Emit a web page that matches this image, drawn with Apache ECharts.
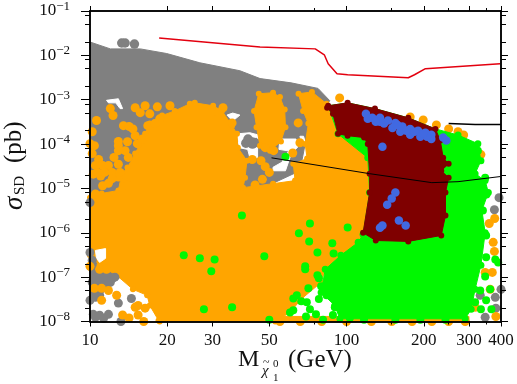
<!DOCTYPE html>
<html>
<head>
<meta charset="utf-8">
<style>html,body{margin:0;padding:0;background:#fff}#chart{width:517px;height:384px}</style>
<script src="https://cdn.jsdelivr.net/npm/echarts@6/dist/echarts.min.js"></script>
</head>
<body>
<div id="chart"></div>
<script>
// axis values
const xMajor = [10, 20, 30, 50, 100, 200, 300, 400]
const xMinor = [75, 150, 250, 350]
const yMajor = [1e-1, 1e-2, 1e-3, 1e-4, 1e-5, 1e-6, 1e-7, 1e-8]
const yMinor = [8e-2, 5e-2, 2e-2, 8e-3, 5e-3, 2e-3, 8e-4, 5e-4, 2e-4, 8e-5, 5e-5, 2e-5,
  8e-6, 5e-6, 2e-6, 8e-7, 5e-7, 2e-7, 8e-8, 5e-8, 2e-8]

// filled regions, outlines as [mass GeV, sigma pb]
const grayEdge = [[10, 2e-2], [12, 1.4e-2], [15.7, 1.4e-2], [19.9, 1.1e-2], [26.8, 6.8e-3], [38.4, 4.5e-3],
  [46, 3e-3], [60.8, 2.4e-3], [77.4, 1.8e-3], [86, 9.5e-4], [70.6, 2e-4], [65.8, 2.5e-5], [45, 9e-6],
  [15.7, 2.4e-7], [12, 6.5e-8], [10.5, 3e-8], [10, 3e-8]]
const gapA1 = [[37.4, 1.7e-4], [42, 1.8e-4], [48.5, 1.45e-4], [47.8, 1.1e-4], [44.6, 1.4e-4], [41, 1.55e-4], [40.5, 9e-5], [41, 7.6e-5], [38.2, 8.3e-5]]
const gapA2 = [[41, 8.3e-5], [45, 8.3e-5], [45, 4.9e-5], [42, 4.9e-5]]
const gapB = [[55, 1.3e-4], [63.5, 1.3e-4], [65, 9e-5], [60.8, 5.9e-5], [57.8, 2.5e-5], [51.7, 2.5e-5], [51.7, 3e-5], [56, 3.9e-5], [59.5, 7e-5], [54.5, 7.6e-5]]
const gapC = [[11.6, 9.7e-4], [12.9, 1.05e-3], [13.4, 6.3e-4], [13.1, 6.3e-4], [12.6, 8.5e-4], [11.8, 8.5e-4]]
const gapD = [[34.2, 4.5e-4], [36, 5e-4], [38.4, 4.5e-4], [36, 3.3e-4]]
const gapF = [[65.8, 1.5e-4], [68, 1.5e-4], [69, 1.1e-4], [66.5, 1.2e-4]]
const gapG = [[10.5, 4e-7], [11.5, 4.4e-7], [11.5, 2.65e-7], [10.9, 2.15e-7], [10.6, 2.65e-7]]
const orangeEdge = [[10, 6.2e-6], [11.1, 7.7e-6], [12.9, 9e-6], [13.3, 2.15e-5], [14, 2.95e-5], [15, 6.1e-5], [16.4, 1.7e-4],
  [17.1, 2.9e-4], [19.1, 4.4e-4], [21.4, 5.6e-4], [24.5, 8.1e-4], [25.6, 8.5e-4], [30.2, 7.3e-4], [32.7, 5.6e-4], [35.8, 2.6e-4],
  [37.4, 1.7e-4], [37.7, 8.3e-5], [40.9, 4.2e-5], [40.2, 1.75e-5], [39.5, 1.04e-5], [51.7, 1.28e-5], [63, 1.5e-5], [62, 3.6e-5],
  [70.2, 4.7e-5], [69, 1e-4], [71, 2.9e-4], [67.7, 5.6e-4], [65, 1.36e-3], [73.3, 1.5e-3], [83.6, 8.1e-4], [92.6, 1.7e-4],
  [121, 4.9e-5], [123, 8.1e-6], [116, 9.2e-7], [111, 6.1e-7], [95, 3.1e-7], [82.6, 1.5e-7], [79.6, 7.6e-8], [66.6, 3.2e-8],
  [60.2, 1.6e-8], [52.7, 1e-8], [18.7, 1e-8], [18.5, 1.06e-8], [17.1, 2.3e-8], [16.7, 3.9e-8], [14.7, 5.3e-8], [12.7, 1.1e-7],
  [10.9, 1.85e-7], [10, 3.1e-7]]
const orangeColumn = [[45.5, 1.36e-3], [51.7, 1.44e-3], [55, 1.15e-3], [57.4, 6e-4], [57.8, 2.4e-4], [55.5, 1.15e-4], [50.3, 7.1e-5],
  [46, 9.2e-5], [44.6, 2.4e-4], [43.6, 5.6e-4]]
const orangeStrip = [[52.7, 1e-8], [300, 1e-8], [300, 1.3e-8], [52.7, 1.3e-8]]
const greenTop = [[84.8, 7.3e-4], [101, 8.5e-4], [129, 6.3e-4], [174, 3.9e-4], [222, 2.2e-4]]
const greenRight = [[272, 1.6e-4], [325, 1.02e-4], [334, 4.2e-5], [317, 2.15e-5], [347, 1.5e-5], [357, 8.1e-6], [337, 3.2e-6], [347, 1e-6],
  [334, 1.85e-7], [317, 5.3e-8], [306, 1.9e-8]]
const greenBottom = [[290, 1.15e-8], [94.2, 1.15e-8], [90, 2.3e-8], [79.6, 4.5e-8], [82.6, 1.5e-7], [95, 3.1e-7], [111, 6.1e-7],
  [116, 9.2e-7], [123, 8.1e-6], [121, 4.9e-5], [92.6, 1.7e-4]]
const maroonEdge = [[84.8, 7.3e-4], [101, 8.5e-4], [129, 6.3e-4], [174, 3.9e-4], [222, 2.2e-4], [232, 1.2e-4], [238, 4.9e-5],
  [250, 3.6e-5], [234, 2.5e-5], [250, 1.75e-5], [243, 8.1e-6], [243, 2.45e-6], [234, 8.7e-7], [174, 6.4e-7], [130, 6.7e-7],
  [116, 1e-6], [123, 8.1e-6], [123, 2.15e-5], [121, 1e-4], [117, 1.4e-4], [101, 1.55e-4], [92.6, 1.7e-4], [88.5, 4.8e-4], [84, 6.6e-4]]

// individual points
const grayDots = [[13.3, 1.9e-2], [13.7, 1.9e-2], [14.9, 1.8e-2], [41.3, 1.3e-4], [40.5, 1.05e-4], [43, 1e-4]]
const grayOverDots = [[12.9, 2.6e-8], [14.5, 3.3e-8], [13.2, 1e-8], [10.3, 1.45e-8], [10.9, 1.38e-8], [11.8, 1.45e-8],
  [10.5, 1.25e-8], [11.3, 1.18e-8], [10.5, 3.5e-8], [10.9, 3.9e-8], [10.2, 7.6e-8], [10.9, 8.5e-8], [12, 7.6e-8], [12.5, 1e-7],
  [10, 3e-8], [10, 3.6e-7], [10.2, 2.4e-7], [10.2, 1.6e-7], [10, 4.8e-6],
  [393, 6.2e-6], [377, 3.3e-6], [400, 5.3e-8], [332, 3.9e-8], [380, 3.5e-8], [347, 1.25e-8], [382, 2e-8]]
const orangeDots = [[10.6, 3.4e-4], [10.2, 1.9e-4], [10, 1.02e-4], [10.4, 9.2e-5], [10.2, 6.1e-5], [12, 6.3e-4], [12.3, 4.4e-4],
  [13.5, 2.6e-4], [14.2, 2.5e-4], [15, 6.6e-4], [15.7, 5.1e-4], [16.4, 7.3e-4], [18.3, 6.9e-4], [17.1, 4.8e-4], [20.5, 7.3e-4], [14.7, 2.2e-4],
  [15, 1.55e-4], [18.7, 3.7e-4], [16.8, 2.6e-4], [12.9, 1.15e-4], [14, 1.13e-4], [12.9, 9.2e-5], [10.8, 4.5e-5], [10.5, 3.3e-5],
  [11.8, 3.3e-5], [12.4, 5e-5], [14.1, 5e-5], [12.9, 3.5e-5], [11, 1.9e-5], [10.3, 2.1e-5], [11.8, 1.3e-5], [12.9, 1.8e-5],
  [10.5, 7.5e-6], [14, 1.2e-5], [15.3, 1.02e-4], [16, 1.3e-4], [17.9, 2.9e-4], [33, 6.6e-4], [31.6, 5.1e-4], [35.8, 3e-4],
  [10.7, 2.3e-5], [11.4, 2.3e-5], [12.2, 2.3e-5], [13.1, 2.3e-5], [11.2, 1.15e-5], [12.2, 1.66e-5], [13.7, 7.1e-5], [12.9, 7.1e-5], [11.2, 3.3e-5],
  [64.8, 3e-4], [65.8, 1.07e-4], [61.7, 6.3e-5], [48.2, 8.3e-5], [52, 7.1e-5], [46.4, 4.2e-5], [42.9, 4.5e-5], [48.2, 3.1e-5], [50, 2.3e-5], [47, 1.6e-5], [44, 1.2e-5],
  [10.9, 1.5e-7], [10.4, 5.6e-8], [11.1, 5.6e-8], [11.1, 3e-8], [12.7, 3.9e-8], [11.8, 5e-8], [13.4, 1.4e-8], [14.2, 1.2e-8], [15, 2.1e-8], [15.4, 2.3e-8],
  [16.4, 2e-8], [15.4, 1.4e-8], [16.2, 1e-8], [10, 1.75e-7], [11.6, 1.5e-7],
  [378, 2.1e-6], [360, 1.62e-6], [373, 6.1e-7], [377, 3.8e-7], [347, 1.28e-7], [370, 1.28e-7], [363, 5.3e-8], [317, 2.1e-8], [382, 1.3e-8], [334, 5.8e-5],
  [55, 1e-8], [66, 1e-8], [80, 1e-8], [100, 1e-8], [125, 1e-8], [150, 1e-8], [180, 1e-8], [215, 1e-8], [250, 1e-8], [290, 1e-8],
  [94, 1.1e-3], [177, 4.1e-4], [199, 3.5e-4], [224, 2.7e-4], [250, 2.2e-4], [272, 1.9e-4], [286, 1.6e-4]]
const greenDots = [[39.1, 2.45e-6], [23.2, 3.1e-7], [26.8, 2.65e-7], [30.6, 2.5e-7], [29.7, 1.35e-7], [27.8, 1.9e-8], [35.8, 2.1e-8],
  [57.8, 5.2e-5], [72, 1.62e-6], [65.2, 9.7e-7], [101, 1.32e-6], [71.5, 6.4e-7], [88, 5.8e-7], [77, 3.6e-7], [89, 3.4e-7], [47.8, 2.95e-7],
  [69, 1.75e-7], [69, 1.5e-7], [77, 1.1e-7], [78, 9.4e-8], [71, 5.6e-8], [79.6, 6.2e-8], [64, 3.9e-8], [62, 3.3e-8], [78, 3.2e-8],
  [66.6, 2.85e-8], [70, 2.7e-8], [83.6, 3.9e-8], [72, 1.9e-8], [62, 1.8e-8], [60.2, 1.6e-8], [90, 2.1e-8], [50, 1.1e-8], [69.5, 1.3e-8],
  [76, 1.45e-8], [88.5, 1.4e-8], [101, 1.9e-8], [81, 1.1e-8], [103, 1.2e-8], [117, 1.1e-8], [155, 1.1e-8], [194, 1.1e-8], [243, 1.1e-8], [117, 1.4e-8],
  [351, 7.3e-6], [340, 3.2e-6], [350, 8.7e-7], [350, 2.8e-7], [380, 2.5e-7], [390, 2.15e-7], [347, 1.04e-7], [363, 5.3e-8], [332, 5e-8],
  [350, 3e-8], [367, 1.9e-8], [334, 1.9e-8], [317, 2.7e-8], [347, 1.75e-5], [325, 7.1e-5]]
const blueDots = [[119, 4.8e-4], [126, 3.9e-4], [135, 3.9e-4], [145, 3.4e-4], [155, 3e-4], [165, 2.5e-4], [177, 2.2e-4], [190, 2e-4],
  [203, 1.8e-4], [214, 1.63e-4], [214, 1.3e-4], [194, 1.47e-4], [177, 1.63e-4], [162, 1.9e-4], [151, 2.3e-4], [135, 3.2e-4],
  [121, 3.7e-4], [130, 3.2e-4], [140, 2.9e-4], [158, 2.7e-4], [171, 2e-4], [184, 1.9e-4], [206, 1.47e-4], [199, 1.7e-4],
  [238, 1.4e-4], [245, 1.2e-4], [138, 8.7e-5], [155, 8.1e-6], [150, 5.9e-6], [144, 4.3e-6], [138, 1.46e-6], [135, 1.3e-6], [160, 1.9e-6], [170, 1.46e-6]]

// limit curves
const redCurve = [[18.6, 2.45e-2], [46, 1.55e-2], [75.5, 1.4e-2], [81.9, 1.03e-2], [84.8, 6.45e-3], [91.8, 3.84e-3], [101, 3.65e-3],
  [174, 3.12e-3], [184, 3.65e-3], [203, 5e-3], [397, 6.45e-3]]
const blackUpper = [[250, 2.9e-4], [317, 2.75e-4], [400, 2.75e-4]]
const blackLower = [[51, 4.9e-5], [123, 2.15e-5], [215, 1.35e-5], [272, 1.42e-5], [397, 1.85e-5]]

const SERIF = '"Liberation Serif", serif'
const GRAY = '#808080'
const ORANGE = '#ffa500'
const GREEN = '#00f800'
const MAROON = '#7f0000'
const BLUE = '#4169e1'

function area(points, color, z) {
  return {
    type: 'custom',
    coordinateSystem: 'cartesian2d',
    silent: true,
    clip: false,
    z: z,
    data: [points[0]],
    renderItem: function(params, api) {
      return {
        type: 'polygon',
        shape: { points: points.map(function(p) { return api.coord(p) }) },
        style: { fill: color, stroke: color, lineWidth: 1 }
      }
    }
  }
}

function dots(points, color, z, size) {
  return {
    type: 'scatter',
    silent: true,
    clip: false,
    z: z,
    symbolSize: size || 9,
    itemStyle: { color: color, opacity: 1 },
    data: points
  }
}

function curve(points, color, width) {
  return {
    type: 'line',
    silent: true,
    z: 30,
    symbol: 'none',
    lineStyle: { color: color, width: width },
    data: points
  }
}

function xAxisOf(position, values, length, withLabel) {
  return {
    type: 'log',
    logBase: 10,
    min: 10,
    max: 400,
    position: position,
    z: 40,
    splitLine: { show: false },
    minorTick: { show: false },
    axisLine: { show: true, lineStyle: { color: '#000', width: 1.5 } },
    axisTick: { show: true, length: length, lineStyle: { color: '#000', width: 1 }, customValues: values },
    axisLabel: withLabel
      ? { show: true, customValues: values, margin: 11, color: '#111', fontFamily: SERIF, fontSize: 17, formatter: function(v) { return String(Math.round(v)) } }
      : { show: false }
  }
}

function yAxisOf(position, values, length, withLabel) {
  return {
    type: 'log',
    logBase: 10,
    min: 1e-8,
    max: 1e-1,
    position: position,
    z: 40,
    splitLine: { show: false },
    minorTick: { show: false },
    axisLine: { show: true, lineStyle: { color: '#000', width: 1.5 } },
    axisTick: { show: true, length: length, lineStyle: { color: '#000', width: 1 }, customValues: values },
    axisLabel: withLabel
      ? {
        show: true,
        customValues: values,
        margin: 20,
        color: '#111',
        formatter: function(v) { return '{a|10}{b|\u2212' + Math.round(-Math.log10(v)) + '}' },
        rich: {
          a: { fontFamily: SERIF, fontSize: 17, color: '#111' },
          b: { fontFamily: SERIF, fontSize: 13, color: '#111', padding: [0, 0, 9, 0] }
        }
      }
      : { show: false }
  }
}

function label(text, x, y, size, extra) {
  return {
    type: 'text',
    x: x,
    y: y,
    z: 50,
    rotation: extra && extra.rotation ? extra.rotation : 0,
    style: {
      text: text,
      fill: '#111',
      font: (extra && extra.italic ? 'italic ' : '') + size + 'px ' + SERIF,
      align: extra && extra.align ? extra.align : 'left',
      verticalAlign: 'middle'
    }
  }
}

const greenEdge = greenTop.concat(greenRight, greenBottom)

const chart = echarts.init(document.getElementById('chart'))
chart.setOption({
  animation: false,
  backgroundColor: '#fff',
  grid: { left: 90, right: 16, top: 10, bottom: 62.5 },
  xAxis: [
    xAxisOf('bottom', xMajor, 5, true),
    xAxisOf('bottom', xMinor, 3, false),
    xAxisOf('top', xMajor, 5, false),
    xAxisOf('top', xMinor, 3, false)
  ],
  yAxis: [
    yAxisOf('left', yMajor, 9, true),
    yAxisOf('left', yMinor, 5, false),
    yAxisOf('right', yMajor, 7, false),
    yAxisOf('right', yMinor, 5, false)
  ],
  series: [
    area(grayEdge, GRAY, 2),
    area(gapA1, '#fff', 3),
    area(gapA2, '#fff', 3),
    area(gapB, '#fff', 3),
    area(gapC, '#fff', 3),
    area(gapD, '#fff', 3),
    area(gapF, '#fff', 3),
    dots(grayDots, GRAY, 4, 9.5),
    area(orangeEdge, ORANGE, 5),
    area(orangeColumn, ORANGE, 5),
    area(orangeStrip, ORANGE, 5),
    dots(orangeEdge, ORANGE, 5, 6),
    dots(orangeColumn, ORANGE, 5, 6),
    area(gapG, '#fff', 5.5),
    dots(grayOverDots, GRAY, 6),
    dots(orangeDots, ORANGE, 7),
    area(greenEdge, GREEN, 8),
    dots(greenRight, GREEN, 8, 7),
    dots(greenBottom, GREEN, 8, 7),
    dots(greenDots, GREEN, 9, 8),
    area(maroonEdge, MAROON, 10),
    dots(maroonEdge, MAROON, 11, 6),
    dots(blueDots, BLUE, 12, 8.5),
    curve(redCurve, '#e3000f', 1.5),
    curve(blackUpper, '#000', 1.5),
    curve(blackLower, '#000', 1)
  ],
  graphic: [
    label('M', 238, 360, 24),
    label('\u03c7', 262, 371, 15, { italic: true }),
    label('~', 263, 363, 12),
    label('0', 273, 364, 11),
    label('1', 273, 378, 11),
    label('(GeV)', 288, 360, 25),
    label('\u03c3', 15, 210, 27, { italic: true, rotation: Math.PI / 2 }),
    label('SD', 20, 195, 15, { rotation: Math.PI / 2 }),
    label('(pb)', 14, 163, 25, { rotation: Math.PI / 2 })
  ]
})
</script>
</body>
</html>
